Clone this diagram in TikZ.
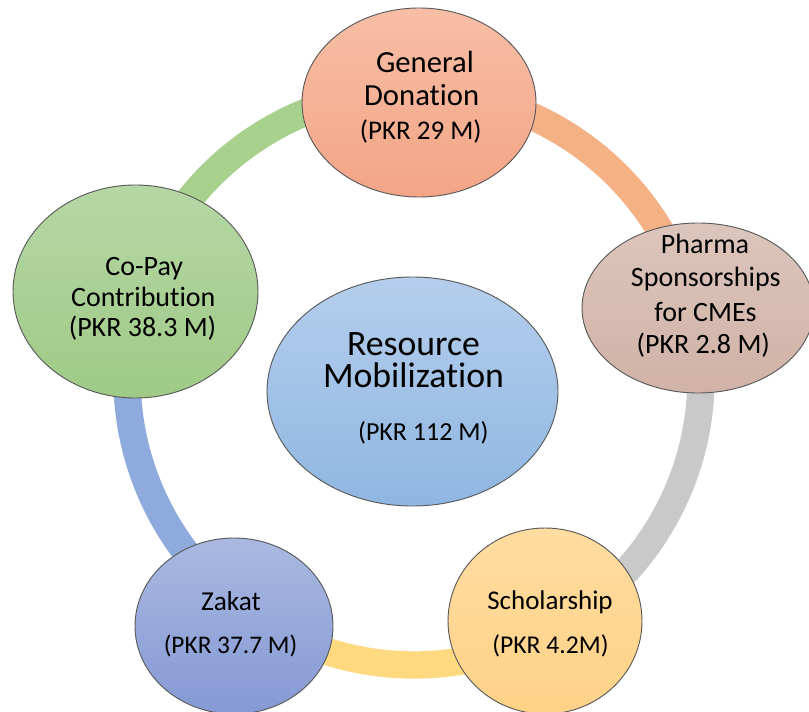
\documentclass[tikz,border=0pt]{standalone}
\usepackage{fontspec}
\setmainfont[Ligatures={NoCommon,NoContextual},Contextuals=NoAlternate,RawFeature={-dlig;-clig}]{Carlito}
\usetikzlibrary{shapes.geometric}
\definecolor{ringgreen}{HTML}{A9D18E}
\definecolor{ringorange}{HTML}{F4B183}
\definecolor{ringgrey}{HTML}{C9C9C9}
\definecolor{ringyellow}{HTML}{FFD980}
\definecolor{ringblue}{HTML}{8FAADC}
\definecolor{genTop}{HTML}{F7BEA6}\definecolor{genBot}{HTML}{F3A585}
\definecolor{phaTop}{HTML}{DCC5BC}\definecolor{phaBot}{HTML}{D1B2A6}
\definecolor{schTop}{HTML}{FFDCA0}\definecolor{schBot}{HTML}{FFD286}
\definecolor{zakTop}{HTML}{A9B9E1}\definecolor{zakBot}{HTML}{8599D4}
\definecolor{coTop}{HTML}{B5D7A5}\definecolor{coBot}{HTML}{9FCA86}
\definecolor{cenTop}{HTML}{B5CEEC}\definecolor{cenBot}{HTML}{8FB6E2}
\definecolor{edge}{HTML}{5A5A5A}
\tikzset{
  ringline/.style={line width=20.5pt},
  bubble/.style={ellipse, draw=edge, line width=0.7pt, inner sep=0pt},
  txt/.style={inner sep=0pt, anchor=base, text=black},
}
\begin{document}
\begin{tikzpicture}[x=0.75pt,y=0.75pt]
\fill[white] (0,0) rectangle (809,711);
\useasboundingbox (0,0) rectangle (809,711);
\clip (0,0) rectangle (809,711);
\coordinate (ringc) at (414,333);
% ring
\draw[ringline, ringgreen]  ([shift={(162.7:287)}]ringc) arc[start angle=162.7, end angle=88.9, radius=287];
\draw[ringline, ringorange] ([shift={(88.9:287)}]ringc) arc[start angle=88.9, end angle=13.8, radius=287];
\draw[ringline, ringgrey]   ([shift={(13.8:287)}]ringc) arc[start angle=13.8, end angle=-61.7, radius=287];
\draw[ringline, ringyellow] ([shift={(-61.7:287)}]ringc) arc[start angle=-61.7, end angle=-126, radius=287];
\draw[ringline, ringblue]   ([shift={(-126:287)}]ringc) arc[start angle=-126, end angle=-197.3, radius=287];
% bubbles
\node[bubble, top color=genTop, bottom color=genBot, minimum width=175.5pt, minimum height=141.75pt] (gen) at (419,608.5) {};
\node[bubble, top color=coTop, bottom color=coBot, minimum width=183.75pt, minimum height=159.75pt] (copay) at (135.5,419.5) {};
\node[bubble, top color=phaTop, bottom color=phaBot, minimum width=174pt, minimum height=127.5pt] (pharma) at (698,403) {};
\node[bubble, top color=zakTop, bottom color=zakBot, minimum width=148.5pt, minimum height=132pt] (zakat) at (234,85) {};
\node[bubble, top color=schTop, bottom color=schBot, minimum width=145.5pt, minimum height=139.5pt] (schol) at (545,90) {};
\node[bubble, top color=cenTop, bottom color=cenBot, minimum width=218.25pt, minimum height=171.75pt] (center) at (412.5,319.5) {};
% texts
\node[txt, font=\fontsize{23}{27}\selectfont] (gen1) at (425,638.7) {General};
\node[txt, font=\fontsize{23}{27}\selectfont] (gen2) at (421.7,605) {Donation};
\node[txt, font=\fontsize{20.25}{24}\selectfont] (gen3) at (420.8,571.7) {(PKR 29 M)};
\node[txt, font=\fontsize{21}{25}\selectfont] (co1) at (144.3,435.3) {Co-Pay};
\node[txt, font=\fontsize{21}{25}\selectfont] (co2) at (143.3,404.3) {Contribution};
\node[txt, font=\fontsize{21}{25}\selectfont] (co3) at (142.5,374.3) {(PKR 38.3 M)};
\node[txt, font=\fontsize{21}{25}\selectfont] (ph1) at (705,457.7) {Pharma};
\node[txt, font=\fontsize{21}{25}\selectfont] (ph2) at (705.8,424.3) {Sponsorships};
\node[txt, font=\fontsize{21}{25}\selectfont] (ph3) at (705.5,389.3) {for CMEs};
\node[txt, font=\fontsize{21}{25}\selectfont] (ph4) at (703.3,357.7) {(PKR 2.8 M)};
\node[txt, font=\fontsize{20.5}{24}\selectfont] (zk1) at (231,101) {Zakat};
\node[txt, font=\fontsize{19}{23}\selectfont] (zk2) at (230.5,57.7) {(PKR 37.7 M)};
\node[txt, font=\fontsize{20.25}{24}\selectfont] (sc1) at (550,101.7) {Scholarship};
\node[txt, font=\fontsize{19.25}{23}\selectfont] (sc2) at (550.5,57.7) {(PKR 4.2M)};
\node[txt, align=center, font=\fontsize{26.8}{24.2}\selectfont] (ce1) at (413.5,323.3) {Resource\\Mobilization};
\node[txt, font=\fontsize{19.5}{23}\selectfont] (ce3) at (423.3,271) {(PKR 112 M)};
\end{tikzpicture}
\end{document}
